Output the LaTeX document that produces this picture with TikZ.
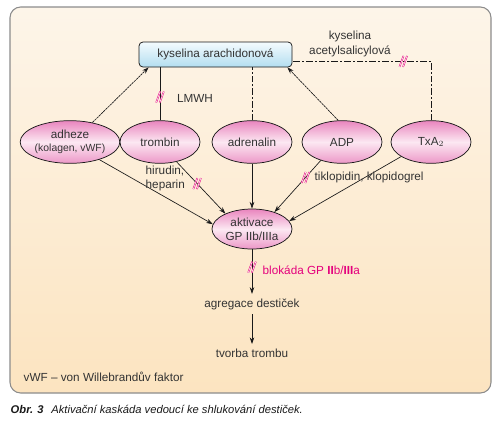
\documentclass[tikz,border=0pt]{standalone}
\usepackage{fontspec}
\setmainfont{Liberation Sans}
\usetikzlibrary{arrows.meta,calc,shapes.geometric}
\definecolor{bgtop}{HTML}{FDF5E9}
\definecolor{bgbot}{HTML}{FCE4C0}
\definecolor{pinkedge}{HTML}{E985BE}
\definecolor{pinkmid}{HTML}{FCE8F2}
\definecolor{bluetop}{HTML}{F4FBFE}
\definecolor{bluebot}{HTML}{B3DEF0}
\definecolor{mag}{HTML}{E4007C}
\definecolor{txt}{HTML}{333333}
\tikzset{
  ell/.style={ellipse, draw=black!90, line width=0.55pt, top color=pinkedge, bottom color=pinkedge!85, middle color=pinkmid,
    minimum width=60pt, minimum height=32pt, inner sep=0pt, align=center},
  abox/.style={rectangle, rounded corners=3pt, draw=black!90, line width=0.55pt, top color=bluetop, bottom color=bluebot,
    minimum width=114.75pt, minimum height=18.75pt},
  tip/.style={-{Stealth[length=5pt,width=3.4pt]}},
  conn/.style={draw=black!90, line width=0.5pt},
  fine/.style={conn, dash pattern=on 1.8pt off 0.5pt},
  dd/.style={conn, dash pattern=on 5pt off 1.5pt on 1.5pt off 1.5pt},
  hashst/.style={draw=mag, line width=0.35pt, double=pinkmid, double distance=0.5pt},
  hashpic/.pic={\draw[hashst] (-3.8,5.5)--(0.2,-5.5); \draw[hashst] (-0.2,5.5)--(3.8,-5.5);}
}
\begin{document}
\begin{tikzpicture}[x=0.75pt,y=-0.75pt, font=\fontsize{8.8}{10.5}\selectfont, text=txt]
\useasboundingbox (0,0) rectangle (500,425);
\path[draw=black!45, line width=0.8pt, rounded corners=8pt, top color=bgtop, bottom color=bgbot] (10,7) rectangle (491,393);

\node[abox] (arach) at (215.5,54.5) {kyselina arachidonová};

\node[ell] (adheze) at (70,142) {adheze\\[-1pt]{\fontsize{7.8}{9}\selectfont (kolagen, vWF)}};
\node[ell] (trombin) at (160,142) {trombin};
\node[ell] (adrenalin) at (252,142) {adrenalin};
\node[ell] (ADP) at (342,142) {ADP};
\node[ell] (TxA2) at (431,142) {TxA$_2$};

\node[ell, minimum height=30pt] (aktiv) at (252,229) {aktivace\\GP IIb/IIIa};
\node (agreg) at (252,304) {agregace destiček};
\node (tvorba) at (252,353) {tvorba trombu};

% upper connectors
\draw[fine,tip] (adheze.41) -- ([xshift=7.5pt]arach.south west);
\draw[conn] (trombin.north) -- coordinate[pos=0.44] (h1) (trombin.north |- arach.south);
\draw[dd] (adrenalin.north) -- (adrenalin.north |- arach.south);
\draw[fine,tip] (ADP.100) -- ([xshift=-3.75pt]arach.south east);
\draw[dd] (TxA2.north) |- coordinate[pos=0.6] (h2) ([yshift=4.5pt]arach.south east);

% lower connectors
\draw[conn,tip] (adheze.-31) -- (aktiv.173);
\draw[conn,tip] (trombin.-50) -- coordinate[pos=0.42] (h3) (aktiv.150);
\draw[conn,tip] (adrenalin.south) -- (aktiv.north);
\draw[conn,tip] (ADP.-139) -- coordinate[pos=0.33] (h4) (aktiv.37);
\draw[conn,tip] (TxA2.-154) -- (aktiv.12);
\draw[conn,tip] (aktiv.south) -- coordinate[pos=0.4] (h5) (agreg.north);
\draw[conn,tip] (agreg.south) -- (tvorba.north);

% blocking marks
\pic at (h1) {hashpic};
\pic at (h2) {hashpic};
\pic at (h3) {hashpic};
\pic at (h4) {hashpic};
\pic at (h5) {hashpic};

% labels
\node[align=center, font=\fontsize{8.8}{11.25}\selectfont] (asa) at (350,44) {kyselina\\acetylsalicylová};
\node (lmwh) at (195,98) {LMWH};
\node[align=left, anchor=west, font=\fontsize{8.8}{10.5}\selectfont] (hir) at (141,178) {hirudin,\\heparin};
\node[anchor=west] (tik) at (310,177) {tiklopidin, klopidogrel};
\node[anchor=west, text=mag] (blok) at (258,270) {blokáda GP \textbf{II}b/\textbf{III}a};
\node[anchor=west] (vwf) at (19,377) {vWF – von Willebrandův faktor};
\node[anchor=west, text=black!90, font=\fontsize{8.4}{10}\selectfont\itshape] (cap) at (6,409) {\textbf{Obr. 3}\hspace{0.7em}Aktivační kaskáda vedoucí ke shlukování destiček.};
\end{tikzpicture}
\end{document}
